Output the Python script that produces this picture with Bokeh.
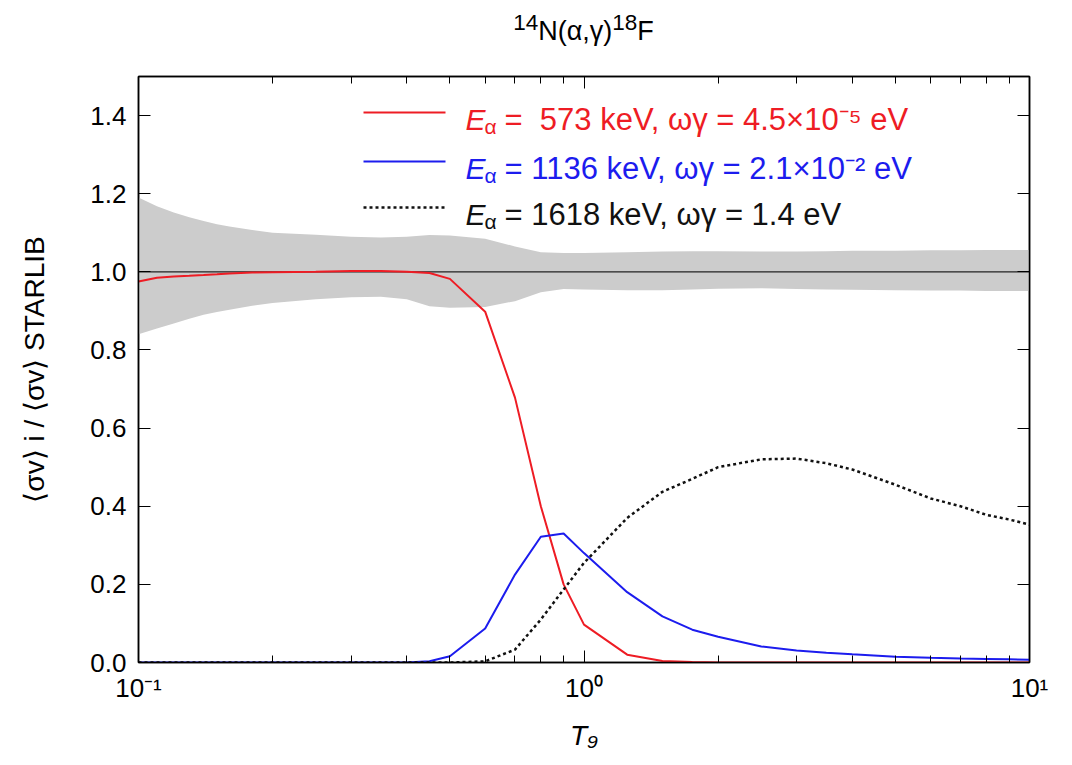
from bokeh.plotting import figure
from bokeh.layouts import column
from bokeh.models import (LogAxis, LinearAxis, Span, Label, Arrow, FixedTicker,
                          PrintfTickFormatter, Div)
from bokeh.embed import file_html
from bokeh.resources import INLINE

# ---------------- data ----------------
T9 = [0.1, 0.11, 0.12, 0.13, 0.14, 0.15, 0.16, 0.18, 0.2, 0.25, 0.3, 0.35, 0.4,
      0.45, 0.5, 0.6, 0.7, 0.8, 0.9, 1.0, 1.25, 1.5, 1.75, 2.0, 2.5, 3.0, 3.5,
      4.0, 5.0, 6.0, 7.0, 8.0, 9.0, 10.0]

band_upper = [1.19, 1.168, 1.152, 1.14, 1.13, 1.122, 1.116, 1.107, 1.10, 1.095,
              1.09, 1.088, 1.09, 1.094, 1.093, 1.085, 1.065, 1.05, 1.048, 1.048,
              1.05, 1.052, 1.053, 1.053, 1.052, 1.052, 1.053, 1.054, 1.054,
              1.055, 1.055, 1.056, 1.056, 1.056]
band_lower = [0.84, 0.855, 0.868, 0.88, 0.89, 0.897, 0.903, 0.913, 0.92, 0.93,
              0.935, 0.936, 0.93, 0.912, 0.908, 0.91, 0.925, 0.948, 0.956, 0.955,
              0.953, 0.953, 0.955, 0.957, 0.958, 0.956, 0.955, 0.954, 0.953,
              0.952, 0.952, 0.951, 0.951, 0.951]

ratio_573 = [0.975, 0.985, 0.988, 0.99, 0.992, 0.994, 0.996, 0.998, 0.999, 1.0,
             1.002, 1.002, 1.0, 0.997, 0.982, 0.898, 0.678, 0.40, 0.20, 0.097,
             0.02, 0.004, 0.001, 0.0, 0.0, 0.0, 0.0, 0.0, 0.0, 0.0, 0.0, 0.0,
             0.0, 0.0]
ratio_1136 = [0.0, 0.0, 0.0, 0.0, 0.0, 0.0, 0.0, 0.0, 0.0, 0.0, 0.0, 0.0, 0.0,
              0.003, 0.016, 0.087, 0.225, 0.322, 0.33, 0.28, 0.18, 0.118, 0.084,
              0.066, 0.041, 0.031, 0.025, 0.021, 0.015, 0.012, 0.010, 0.009,
              0.008, 0.007]
ratio_1618 = [0.0, 0.0, 0.0, 0.0, 0.0, 0.0, 0.0, 0.0, 0.0, 0.0, 0.0, 0.0, 0.0,
              0.0, 0.0, 0.003, 0.033, 0.11, 0.187, 0.255, 0.37, 0.437, 0.47,
              0.50, 0.52, 0.522, 0.51, 0.494, 0.455, 0.42, 0.40, 0.378, 0.366,
              0.353]

title_html = "<sup>14</sup>N(α,γ)<sup>18</sup>F"
y_label = "⟨σv⟩ i / ⟨σv⟩ STARLIB"
x_label = "T₉"
legend_rest = ["= \u00a0573 keV, ωγ = 4.5×10⁻⁵ eV",
               "= 1136 keV, ωγ = 2.1×10⁻² eV",
               "= 1618 keV, ωγ = 1.4 eV"]
y_ticks = [0.0, 0.2, 0.4, 0.6, 0.8, 1.0, 1.2, 1.4]
x_major = [0.1, 1.0, 10.0]
x_major_labels = {0.1: "10⁻¹", 1: "10⁰", 10: "10¹"}

FONT = "Liberation Sans"
RED = "#ee1c24"
BLUE = "#1c1cee"

x_minor = [m * d for d in (0.1, 1.0) for m in range(2, 10)]

title_div = Div(text=title_html, width=891, height=46, margin=(0, 0, 0, 138),
                styles={"font-family": FONT, "font-size": "27px",
                        "color": "black", "text-align": "center",
                        "width": "891px", "line-height": "46px",
                        "overflow": "visible"})

p = figure(width=1058, height=707, x_axis_type="log", x_range=(0.1, 10),
           y_range=(0, 1.5), output_backend="svg", toolbar_location=None,
           min_border_left=138, min_border_right=29, min_border_top=30,
           min_border_bottom=90, margin=0)
p.grid.visible = False
p.outline_line_color = "black"
p.outline_line_width = 1.5

# band and reference line
p.varea(x=T9, y1=band_lower, y2=band_upper, fill_color="#cccccc",
        level="image")
p.add_layout(Span(location=1.0, dimension="width", line_color="#222222",
                  line_width=1.2, level="underlay"))

# curves
p.line(T9, ratio_573, line_color=RED, line_width=2)
p.line(T9, ratio_1136, line_color=BLUE, line_width=2)
p.line(T9, ratio_1618, line_color="#111111", line_width=2.5, line_dash="3 3")

xt = FixedTicker(ticks=x_major, minor_ticks=x_minor)
yt = FixedTicker(ticks=y_ticks, minor_ticks=[])

def style_axis(ax):
    ax.axis_line_color = "black"
    ax.axis_line_width = 1.5
    ax.major_tick_in = 12
    ax.major_tick_out = 0
    ax.minor_tick_in = 7
    ax.minor_tick_out = 0
    ax.major_tick_line_color = "black"
    ax.minor_tick_line_color = "black"
    ax.major_label_text_font = FONT
    ax.major_label_text_font_size = "26px"
    ax.major_label_text_color = "black"

xb = p.below[0]
xb.ticker = xt
xb.major_label_overrides = x_major_labels
style_axis(xb)
xb.major_label_standoff = 10
xb.axis_label = x_label
xb.axis_label_text_font = FONT
xb.axis_label_text_font_style = "italic"
xb.axis_label_text_font_size = "28px"
xb.axis_label_text_color = "black"
xb.axis_label_standoff = 14

yl = p.left[0]
yl.ticker = yt
yl.formatter = PrintfTickFormatter(format="%.1f")
style_axis(yl)
yl.major_label_standoff = 12
yl.axis_label = y_label
yl.axis_label_text_font = FONT
yl.axis_label_text_font_style = "normal"
yl.axis_label_text_font_size = "28px"
yl.axis_label_text_color = "black"
yl.axis_label_standoff = 37

xtop = LogAxis(ticker=xt)
style_axis(xtop)
xtop.major_label_overrides = {0.1: "", 1: "", 10: ""}
xtop.major_label_standoff = 0
p.add_layout(xtop, "above")
yr = LinearAxis(ticker=yt)
style_axis(yr)
yr.major_label_overrides = {v: "" for v in y_ticks}
yr.major_label_standoff = 0
p.add_layout(yr, "right")

# legend
colors = [RED, BLUE, "#111111"]
dashes = ["solid", "solid", "3 3"]
widths = [2, 2, 2.5]
rows_y = [550, 501, 455]
for txt, c, d, w, ly in zip(legend_rest, colors, dashes, widths, rows_y):
    p.add_layout(Arrow(end=None, x_start=225, y_start=ly, x_end=307, y_end=ly,
                       start_units="screen", end_units="screen",
                       line_color=c, line_width=w, line_dash=d))
    p.add_layout(Label(x=327, y=ly - 7, x_units="screen", y_units="screen",
                       text="E", text_font=FONT, text_font_style="italic",
                       text_font_size="30px", text_color=c,
                       text_baseline="alphabetic"))
    p.add_layout(Label(x=346, y=ly - 14, x_units="screen", y_units="screen",
                       text="α", text_font=FONT, text_font_size="21px",
                       text_color=c, text_baseline="alphabetic"))
    p.add_layout(Label(x=366, y=ly - 7, x_units="screen", y_units="screen",
                       text=txt, text_font=FONT, text_font_size="31px",
                       text_color=c, text_baseline="alphabetic"))

layout = column(title_div, p, spacing=0, margin=0)
open("out.html", "w").write(file_html(layout, INLINE))
